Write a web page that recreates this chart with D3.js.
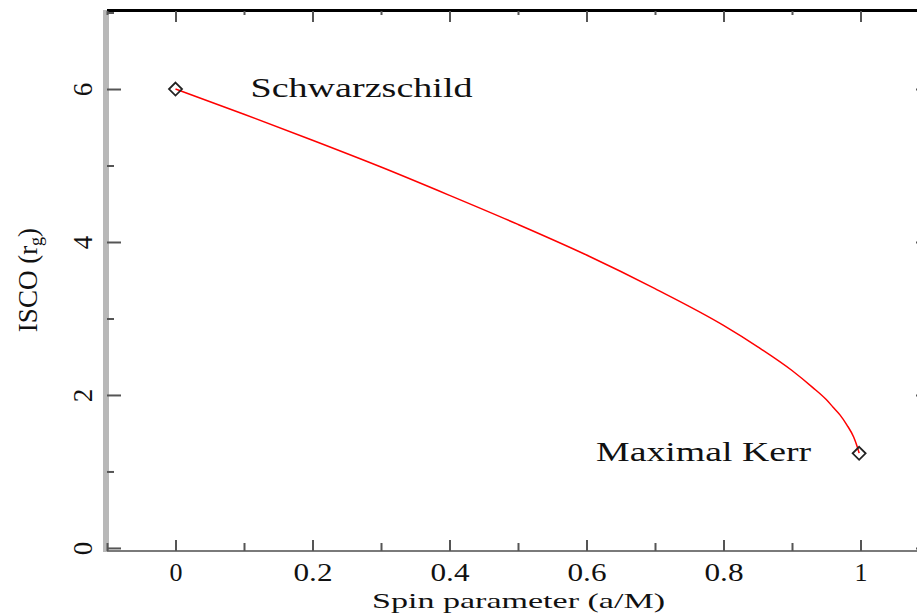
<!DOCTYPE html>
<html>
<head>
<meta charset="utf-8">
<script src="https://cdn.jsdelivr.net/npm/d3@7"></script>
<style>
  body { margin: 0; background: #fff; }
  text { font-family: "Liberation Serif", "DejaVu Serif", serif; fill: #111; }
</style>
</head>
<body>
<div id="chart"></div>
<script>
// ISCO radius vs spin
const spin = [0, 0.1, 0.2, 0.3, 0.4, 0.5, 0.6, 0.7, 0.8, 0.85, 0.9, 0.93, 0.95, 0.96, 0.97, 0.98, 0.99, 0.995, 0.998];
const isco = [6, 5.67, 5.33, 4.98, 4.61, 4.23, 3.83, 3.39, 2.91, 2.63, 2.32, 2.10, 1.94, 1.84, 1.74, 1.61, 1.45, 1.33, 1.24];

const markerSpin = [0, 0.998];
const markerIsco = [6, 1.237];
const markerLabel = ["Schwarzschild", "Maximal Kerr"];

const xTicks = [0, 0.2, 0.4, 0.6, 0.8, 1];
const xMinor = [-0.1, 0.1, 0.3, 0.5, 0.7, 0.9, 1.1];
const yTicks = [0, 2, 4, 6];
const yMinor = [1, 3, 5, 7];

const W = 917, H = 615;
const margin = {top: 11, right: -12, bottom: 64, left: 107};
const width = W - margin.left - margin.right,
      height = H - margin.top - margin.bottom;

const svg = d3.select("#chart").append("svg")
    .attr("width", W).attr("height", H);

const g = svg.append("g")
    .attr("transform", `translate(${margin.left}, ${margin.top})`);

const x = d3.scaleLinear().domain([-0.1, 1.1]).range([0, width]);
const y = d3.scaleLinear().domain([-0.04, 7.02]).range([height, 0]);

// frame
g.append("line").attr("x1", -1).attr("x2", -1).attr("y1", -1).attr("y2", height + 1)
    .attr("stroke", "#b8b8b8").attr("stroke-width", 6);
g.append("line").attr("x1", 0).attr("x2", width).attr("y1", height).attr("y2", height)
    .attr("stroke", "#7a7a7a").attr("stroke-width", 2);
g.append("line").attr("x1", 0).attr("x2", width).attr("y1", -0.5).attr("y2", -0.5)
    .attr("stroke", "#000").attr("stroke-width", 3);
g.append("line").attr("x1", width).attr("x2", width).attr("y1", 0).attr("y2", height)
    .attr("stroke", "#000").attr("stroke-width", 2);

// minor ticks
g.append("g").attr("transform", `translate(0, ${height})`)
    .call(d3.axisBottom(x).tickValues(xMinor).tickSize(-8).tickFormat(""));
g.append("g")
    .call(d3.axisTop(x).tickValues(xMinor).tickSize(-4).tickFormat(""));
g.append("g")
    .call(d3.axisLeft(y).tickValues(yMinor).tickSize(-7).tickFormat(""));
g.append("g").attr("transform", `translate(${width}, 0)`)
    .call(d3.axisRight(y).tickValues(yMinor).tickSize(-7).tickFormat(""));

// major ticks
const xb = g.append("g").attr("class", "xaxis").attr("transform", `translate(0, ${height})`)
    .call(d3.axisBottom(x).tickValues(xTicks).tickSize(-11).tickFormat(d3.format("")));
g.append("g")
    .call(d3.axisTop(x).tickValues(xTicks).tickSize(-11).tickFormat(""));
const yl = g.append("g").attr("class", "yaxis")
    .call(d3.axisLeft(y).tickValues(yTicks).tickSize(-14).tickFormat(d3.format("")));
g.append("g").attr("transform", `translate(${width}, 0)`)
    .call(d3.axisRight(y).tickValues(yTicks).tickSize(-13).tickFormat(""));

g.selectAll(".tick line").attr("stroke", "#555").attr("stroke-width", 2);
g.selectAll(".domain").remove();

xb.selectAll("text")
    .attr("y", 30).attr("dy", null)
    .attr("font-size", "26px")
    .attr("fill", "#222")
    .attr("textLength", function() { return this.textContent.length * 13; })
    .attr("lengthAdjust", "spacingAndGlyphs")
    .style("font-family", "Liberation Serif");

yl.selectAll("text")
    .attr("x", null).attr("dy", null)
    .attr("text-anchor", "middle")
    .attr("transform", "translate(-15,0) rotate(-90)")
    .attr("font-size", "27px")
    .attr("fill", "#222")
    .style("font-family", "Liberation Serif");

// curve
const pts = spin.map((s, i) => [s, isco[i]]);
g.append("path")
    .datum(pts)
    .attr("fill", "none")
    .attr("stroke", "#ff0000")
    .attr("stroke-width", 1.5)
    .attr("d", d3.line().curve(d3.curveMonotoneX).x(d => x(d[0])).y(d => y(d[1])));

// markers
g.selectAll(".mk")
    .data(markerSpin)
    .enter().append("path")
    .attr("class", "mk")
    .attr("transform", (d, i) => `translate(${x(d)}, ${y(markerIsco[i])})`)
    .attr("d", "M0,-6.5L6.5,0L0,6.5L-6.5,0Z")
    .attr("fill", "none")
    .attr("stroke", "#222")
    .attr("stroke-width", 1.8);

g.selectAll(".mklabel")
    .data(markerSpin)
    .enter().append("text")
    .attr("class", "mklabel")
    .attr("x", (d, i) => i == 0 ? x(d) + 75 : x(d) - 263)
    .attr("y", (d, i) => y(markerIsco[i]) + 8)
    .attr("font-size", "27px")
    .attr("textLength", (d, i) => i == 0 ? 222 : 215)
    .attr("lengthAdjust", "spacingAndGlyphs")
    .text((d, i) => markerLabel[i]);

// axis titles
svg.append("text")
    .attr("x", 372).attr("y", 608)
    .attr("font-size", "21px")
    .attr("textLength", 293)
    .attr("lengthAdjust", "spacingAndGlyphs")
    .text("Spin parameter (a/M)");

const yt = svg.append("text")
    .attr("transform", "translate(37, 280) rotate(-90)")
    .attr("text-anchor", "middle")
    .attr("font-size", "27px");
yt.append("tspan").text("ISCO (r");
yt.append("tspan").attr("font-size", "18px").attr("baseline-shift", "-30%").text("g");
yt.append("tspan").text(")");
</script>
</body>
</html>
